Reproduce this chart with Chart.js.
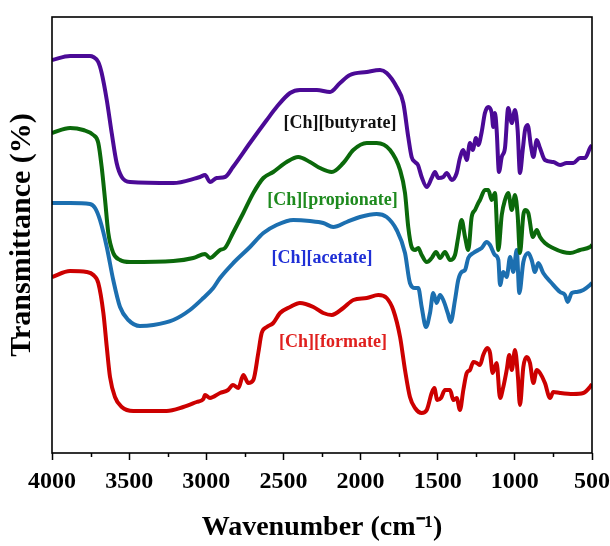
<!DOCTYPE html>
<html><head><meta charset="utf-8">
<script src="https://cdn.jsdelivr.net/npm/chart.js@4/dist/chart.umd.min.js"></script>
<style>html,body{margin:0;padding:0;background:#fff}</style>
</head><body>
<canvas id="c" width="610" height="546"></canvas>
<script>
// ---- data (wavenumber in cm-1, transmittance in arbitrary offset units) ----
const tickValues = [4000,3750,3500,3250,3000,2750,2500,2250,2000,1750,1500,1250,1000,750,500];

const butyrateX = [4000,3883,3754,3732,3700,3678,3645,3613,3581,3548,3494,3214,3062,3041,3008,2976,2933,2879,2827,2717,2608,2544,2457,2393,2284,2198,2133,2069,1960,1874,1831,1766,1723,1691,1669,1647,1628,1604,1571,1539,1518,1496,1464,1442,1409,1377,1356,1334,1312,1291,1273,1252,1237,1215,1194,1172,1150,1140,1129,1118,1103,1085,1064,1043,1020,999,982,967,949,934,917,895,880,858,837,805,751,707,664,621,578,545,513,500];
const butyrateY = [393,397,397,396,391,380,353,320,290,276,271,270,275,276,278,271,275,276,286,310,333,346,360,363,363,361,370,378,381,383,380,366,350,316,296,291,288,276,266,275,281,275,276,280,273,280,295,303,293,310,303,315,308,321,340,346,340,326,340,323,281,296,305,345,330,343,323,280,303,323,328,306,296,313,305,293,291,288,290,290,295,295,305,308];

const propionateX = [4000,3883,3797,3732,3700,3678,3656,3635,3603,3559,3494,3214,3084,3008,2976,2911,2879,2827,2760,2695,2630,2566,2479,2404,2328,2263,2187,2112,2047,1960,1896,1809,1744,1712,1691,1669,1647,1626,1604,1571,1539,1511,1485,1453,1420,1388,1367,1345,1323,1302,1280,1258,1237,1226,1194,1172,1150,1129,1107,1085,1064,1043,1020,999,982,967,945,934,913,883,858,837,805,753,688,642,578,513,500];
const propionateY = [320,325,323,318,310,286,253,220,200,193,191,192,195,199,195,203,205,220,240,260,275,281,291,296,291,285,281,290,303,310,310,303,283,260,226,206,203,205,198,191,195,201,195,201,193,198,216,233,216,203,236,243,250,253,263,263,253,260,203,238,253,260,243,258,238,200,238,243,240,216,223,216,210,205,201,200,203,206,208];

const acetateX = [4000,3883,3754,3721,3689,3645,3603,3559,3505,3430,3343,3214,3106,3019,2955,2911,2825,2717,2630,2544,2436,2328,2242,2177,2090,2004,1896,1831,1766,1712,1680,1647,1626,1604,1576,1550,1529,1507,1485,1464,1435,1416,1388,1367,1345,1323,1302,1269,1237,1215,1183,1161,1129,1107,1096,1075,1053,1031,1010,988,971,945,913,891,870,848,816,762,707,675,658,631,599,556,513,500];
const acetateY = [250,250,249,245,233,206,173,146,133,127,128,133,143,155,165,175,190,206,220,228,233,232,230,226,231,236,239,236,223,200,170,165,165,146,126,140,160,150,158,153,140,131,153,173,181,183,195,200,203,205,211,208,198,193,168,181,176,196,181,203,160,191,200,193,181,190,180,170,161,158,151,160,161,163,168,170];

const formateX = [4000,3883,3775,3732,3700,3667,3645,3624,3592,3548,3473,3257,3149,3062,3019,3008,2976,2911,2859,2827,2792,2760,2728,2695,2663,2641,2608,2566,2522,2457,2393,2306,2242,2187,2112,2047,1960,1885,1831,1788,1744,1712,1680,1647,1604,1571,1539,1522,1503,1479,1453,1420,1399,1377,1356,1334,1312,1291,1269,1247,1226,1205,1179,1161,1144,1118,1096,1075,1053,1036,1020,999,980,967,945,924,902,880,858,837,805,772,751,707,621,556,513,500];
const formateY = [176,182,181,178,170,140,106,76,56,46,42,42,46,51,54,58,55,60,63,68,65,78,70,73,100,120,126,130,140,146,150,146,140,138,145,153,155,158,155,143,116,83,56,45,40,43,60,65,53,55,63,63,53,55,43,63,80,83,91,90,88,98,105,100,80,90,55,66,83,98,83,103,76,48,86,96,90,70,83,80,70,55,61,60,59,60,66,69];

const seriesNames = ['[Ch][butyrate]','[Ch][propionate]','[Ch][acetate]','[Ch][formate]'];

// ---- styling / layout ----
const FONT = "'Liberation Serif','Times New Roman',serif";
const lineColors = ['#4b0a96','#0b690b','#1c6fb0','#cc0000'];
const labelColors = ['#111111','#1e8a1e','#1f2fd6','#e0201e'];
const labelPos = [[2133,330],[2182,253],[2250,195],[2179,111]];

const xs = [butyrateX, propionateX, acetateX, formateX];
const ys = [butyrateY, propionateY, acetateY, formateY];
const datasets = seriesNames.map((n,i)=>({
  label:n,
  data: xs[i].map((x,j)=>({x:x,y:ys[i][j]})),
  borderColor: lineColors[i],
  borderWidth: 4,
  pointRadius: 0,
  fill:false,
  cubicInterpolationMode:'monotone'
}));

const overlay = {
  id:'overlay',
  afterDraw(chart){
    const {ctx, chartArea:a, scales:{x,y}} = chart;
    ctx.save();
    ctx.strokeStyle='#000'; ctx.lineWidth=1.5;
    tickValues.forEach(v=>{
      if (v%500!==0){
        const px = Math.round(x.getPixelForValue(v))+0.5;
        ctx.beginPath(); ctx.moveTo(px,a.bottom); ctx.lineTo(px,a.bottom+4); ctx.stroke();
      }
    });
    ctx.lineWidth=1.6;
    ctx.strokeRect(a.left, a.top, a.right-a.left, a.bottom-a.top);
    ctx.font = "bold 18px "+FONT;
    ctx.textAlign='center'; ctx.textBaseline='middle';
    seriesNames.forEach((n,i)=>{
      ctx.fillStyle = labelColors[i];
      ctx.fillText(n, x.getPixelForValue(labelPos[i][0]), y.getPixelForValue(labelPos[i][1]));
    });
    ctx.restore();
  }
};

new Chart(document.getElementById('c'), {
  type:'line',
  data:{datasets},
  options:{
    responsive:false,
    animation:false,
    layout:{padding:{top:17,right:18,left:0,bottom:0}},
    plugins:{legend:{display:false}, tooltip:{enabled:false}},
    scales:{
      x:{
        type:'linear', min:500, max:4000, reverse:true,
        afterBuildTicks(s){ s.ticks = tickValues.map(v=>({value:v})); },
        afterFit(s){ s.height = 93; s.paddingLeft = 0; s.paddingRight = 0; },
        border:{display:false},
        grid:{drawOnChartArea:false, drawTicks:true, tickLength:7, tickWidth:1.5,
              tickColor:(c)=> (c.tick && c.tick.value%500===0) ? '#000' : 'rgba(0,0,0,0)'},
        ticks:{autoSkip:false, maxRotation:0, padding:7, color:'#000',
               font:{family:FONT, size:24, weight:'bold'},
               callback:(v)=> (v%500===0 ? String(v) : '')},
        title:{display:true, text:'Wavenumber (cm\u207B\u00B9)', color:'#000',
               font:{family:FONT, size:28, weight:'bold'}, padding:{top:0,bottom:1}}
      },
      y:{
        min:0, max:436,
        afterFit(s){ s.width = 52; s.paddingTop = 0; s.paddingBottom = 0; },
        border:{display:false},
        grid:{display:false, drawTicks:false},
        ticks:{display:false},
        title:{display:true, text:'Transmittance (%)', color:'#000',
               font:{family:FONT, size:30, weight:'bold'}, padding:{top:4,bottom:0}}
      }
    }
  },
  plugins:[overlay]
});
</script>
</body></html>
